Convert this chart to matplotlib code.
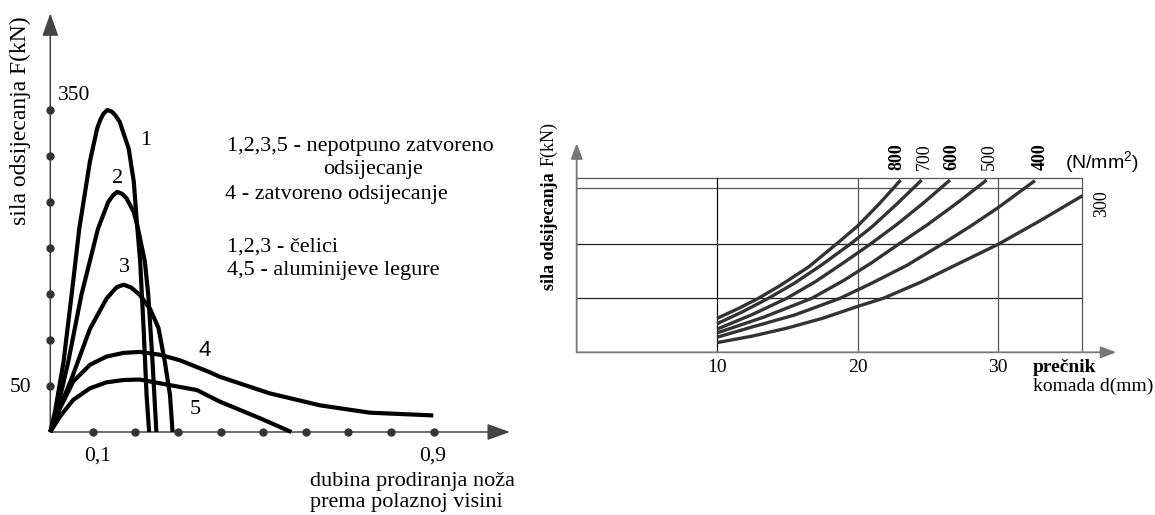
import numpy as np
import matplotlib
matplotlib.use('Agg')
import matplotlib.pyplot as plt

plt.rcParams['font.family'] = ['Liberation Serif', 'DejaVu Serif']
plt.rcParams['mathtext.fontset'] = 'custom'
plt.rcParams['mathtext.rm'] = 'Liberation Sans'
plt.rcParams['mathtext.default'] = 'rm'

# ---------------- left chart data: x = relative depth, y = force (kN)
c1_x = [0, 0.011, 0.031, 0.05, 0.068, 0.093, 0.11, 0.118, 0.125, 0.134, 0.145, 0.153, 0.163, 0.184, 0.196, 0.203, 0.211, 0.219, 0.226, 0.232]
c1_y = [0, 22, 76, 149, 221, 294, 330, 340, 346, 350, 348, 344, 337, 308, 272, 229, 185, 113, 40, 0]

c2_x = [0, 0.015, 0.042, 0.073, 0.112, 0.136, 0.147, 0.157, 0.168, 0.179, 0.196, 0.206, 0.222, 0.23, 0.24, 0.249]
c2_y = [0, 22, 76, 149, 221, 250, 257, 261, 259, 254, 239, 221, 185, 149, 76, 0]

c3_x = [0, 0.018, 0.05, 0.093, 0.132, 0.155, 0.165, 0.173, 0.19, 0.21, 0.234, 0.254, 0.269, 0.281, 0.287]
c3_y = [0, 22, 58, 112, 145, 157, 159, 160, 157, 149, 134, 113, 76, 40, 0]

c4_x = [0, 0.023, 0.054, 0.093, 0.132, 0.172, 0.21, 0.257, 0.304, 0.374, 0.398, 0.515, 0.633, 0.75, 0.899]
c4_y = [0, 26, 55, 73, 82, 86, 87, 84, 78, 65, 60, 42, 29, 21, 18]

c5_x = [0, 0.023, 0.054, 0.093, 0.132, 0.172, 0.21, 0.28, 0.344, 0.398, 0.492, 0.566]
c5_y = [0, 17, 35, 47.5, 54, 56.5, 57, 51, 45.6, 33, 15, 0]

left_curves = [(c1_x, c1_y), (c2_x, c2_y), (c3_x, c3_y), (c4_x, c4_y), (c5_x, c5_y)]
curve_names = ['1', '2', '3', '4', '5']
curve_label_pos = [(0.225, 317), (0.157, 276), (0.174, 179), (0.363, 89), (0.34, 24)]

x_dots = [0.1, 0.2, 0.3, 0.4, 0.5, 0.6, 0.7, 0.8, 0.9]
y_dots = [50, 100, 150, 200, 250, 300, 350]

notes = ['1,2,3,5 - nepotpuno zatvoreno', 'odsijecanje', '4 - zatvoreno odsijecanje',
         '1,2,3 - čelici', '4,5 - aluminijeve legure']

# ---------------- right chart data: x = diameter d (mm), y = force in grid units
d_800 = [10, 11.5, 12.93, 14.5, 16.5, 18.46, 20, 21.5, 23.06]
f_800 = [0.63, 0.81, 1.0, 1.24, 1.58, 2.0, 2.34, 2.74, 3.19]
d_700 = [10, 11.8, 13.64, 15.5, 17.5, 19.45, 21, 22.8, 24.55]
f_700 = [0.53, 0.75, 1.0, 1.28, 1.63, 2.0, 2.32, 2.75, 3.19]
d_600 = [10, 12.5, 14.95, 17, 19, 20.88, 22.8, 24.7, 26.57]
f_600 = [0.43, 0.7, 1.0, 1.31, 1.66, 2.0, 2.37, 2.77, 3.19]
d_500 = [10, 13.3, 16.73, 19, 21, 22.9, 25, 27.1, 29.18]
f_500 = [0.36, 0.65, 1.0, 1.33, 1.66, 2.0, 2.37, 2.77, 3.19]
d_400 = [10, 12.5, 15.5, 18.74, 21, 23.5, 25.98, 28, 30, 32.62]
f_400 = [0.28, 0.47, 0.69, 1.0, 1.28, 1.61, 2.0, 2.33, 2.68, 3.18]
d_300 = [10, 12.5, 15, 17.5, 20, 21.82, 24.5, 27, 30, 33, 36]
f_300 = [0.18, 0.3, 0.45, 0.63, 0.85, 1.0, 1.3, 1.62, 2.0, 2.44, 2.9]

strengths = ['800', '700', '600', '500', '400', '300']
right_curves = [(d_800, f_800), (d_700, f_700), (d_600, f_600),
                (d_500, f_500), (d_400, f_400), (d_300, f_300)]
strength_label_pos = [(22.78, 3.62), (24.72, 3.62), (26.69, 3.62),
                      (29.35, 3.62), (33.0, 3.62), (37.37, 2.76)]
strength_bold = [True, False, True, False, True, False]

grid_y = [1, 2, 3.04, 3.22]
grid_x = [10, 20, 30, 36]
x_ticks_r = [10, 20, 30]

fig = plt.figure(figsize=(11.55, 5.15), dpi=100)

# ================= left chart
ax1 = fig.add_axes([0.04355, 0.16117, 0.4057, 0.8218])
ax1.set_xlim(0, 1.1)
ax1.set_ylim(0, 460)
ax1.axis('off')

ax_col = '#444444'
arrow_l = dict(arrowstyle='-|>,head_length=0.7,head_width=0.25', mutation_scale=20,
               lw=1.1, color=ax_col, shrinkA=0, shrinkB=0)
ax1.annotate('', xy=(1.079, 0), xytext=(0, 0), arrowprops=arrow_l, annotation_clip=False)
ax1.annotate('', xy=(0, 455), xytext=(0, 0), arrowprops=arrow_l, annotation_clip=False)

ax1.plot(x_dots, [0] * len(x_dots), 'o', ms=5, color='#333333', clip_on=False, zorder=3)
ax1.plot([0] * len(y_dots), y_dots, 'o', ms=5, color='#333333', clip_on=False, zorder=3)

for cx, cy in left_curves:
    ax1.plot(cx, cy, color='black', lw=3.0, solid_joinstyle='round',
             solid_capstyle='butt', clip_on=False, zorder=4)

for name, (lx, ly) in zip(curve_names, curve_label_pos):
    fam = ['Liberation Sans'] if name == '4' else ['Liberation Serif']
    ax1.text(lx, ly, name, fontsize=16, family=fam, ha='center', va='center')

ax1.text(0.056, 366, '350', fontsize=15.5, ha='center', va='center')
ax1.text(-0.069, 48, '50', fontsize=15.5, ha='center', va='center')
ax1.text(0.11, -26, '0,1', fontsize=15.5, ha='center', va='center')
ax1.text(0.898, -26, '0,9', fontsize=15.5, ha='center', va='center')

ax1.text(0.414, 310, notes[0], fontsize=16, ha='left', va='center')
ax1.text(0.757, 285, notes[1], fontsize=16, ha='center', va='center')
ax1.text(0.41, 258, notes[2], fontsize=16, ha='left', va='center')
ax1.text(0.414, 201, notes[3], fontsize=16, ha='left', va='center')
ax1.text(0.414, 176, notes[4], fontsize=16, ha='left', va='center')

ax1.text(0.61, -54, 'dubina prodiranja noža', fontsize=16, ha='left', va='center')
ax1.text(0.61, -77, 'prema polaznoj visini', fontsize=16, ha='left', va='center')
ax1.text(-0.07, 338, 'sila odsijecanja F(kN)', fontsize=17, rotation=90,
         ha='center', va='center')

# ================= right chart
ax2 = fig.add_axes([0.4993, 0.3159, 0.4744, 0.4194])
ax2.set_xlim(0, 39)
ax2.set_ylim(0, 4)
ax2.axis('off')

for gy in grid_y:
    ax2.plot([0, 36], [gy, gy], color='#222222' if gy < 3 else '#555555', lw=0.9)
for gx in grid_x:
    ax2.plot([gx, gx], [0, 3.22], color='#111111' if gx == 10 else '#555555', lw=0.9)

arrow_r = dict(arrowstyle='-|>,head_length=0.47,head_width=0.18', mutation_scale=20,
               lw=1.3, color='#777777', shrinkA=0, shrinkB=0)
ax2.annotate('', xy=(38.4, 0), xytext=(0, 0), arrowprops=arrow_r, annotation_clip=False)
ax2.annotate('', xy=(0, 3.87), xytext=(0, 0), arrowprops=arrow_r, annotation_clip=False)

for dx, fy in right_curves:
    ax2.plot(dx, fy, color='#333333', lw=2.4, solid_joinstyle='round',
             solid_capstyle='butt', zorder=4)

for s, (lx, ly), b in zip(strengths, strength_label_pos, strength_bold):
    ax2.text(lx, ly, s, fontsize=13, rotation=90, ha='center', va='center',
             fontweight='bold' if b else 'normal', clip_on=False)

ax2.text(34.75, 3.53, '(N/mm$^{2}$)', fontsize=14, family=['Liberation Sans'],
         ha='left', va='center')

for t in x_ticks_r:
    ax2.text(t, -0.29, str(t), fontsize=14, ha='center', va='center')

ax2.text(32.48, -0.29, 'prečnik', fontsize=14, fontweight='bold', ha='left', va='center')
ax2.text(32.48, -0.637, 'komada d(mm)', fontsize=14, ha='left', va='center')

ax2.text(-1.97, 1.15, 'sila odsijecanja ', fontsize=13, fontweight='bold',
         rotation=90, ha='center', va='bottom')
ax2.text(-1.97, 4.26, 'F(kN)', fontsize=13, rotation=90, ha='center', va='top')

fig.savefig('out.png', dpi=100)
